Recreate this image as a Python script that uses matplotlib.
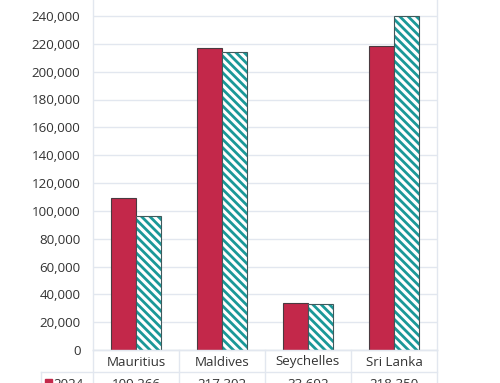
import numpy as np
import matplotlib
matplotlib.use("Agg")
from matplotlib import pyplot as plt
from matplotlib.lines import Line2D
from matplotlib.patches import Rectangle

countries = ["Mauritius", "Maldives", "Seychelles", "Sri Lanka"]
arrivals_2024 = [109266, 217302, 33692, 218350]
arrivals_prev = [96000, 214000, 33000, 240000]
row_label = "2024"
yticks = np.arange(0, 240001, 20000)

RED = "#C3284A"
TEAL = "#1A9898"
GRID = "#E2E7EF"
TXT = "#333333"

W, H = 500, 383


def px(x, y):
    # pixel position -> figure fraction
    return x / W, 1 - y / H


def main():
    plt.rcParams['font.family'] = ['Open Sans', 'DejaVu Sans']
    plt.rcParams['hatch.linewidth'] = 2.0

    fig = plt.figure(figsize=(W / 100, H / 100), dpi=100)
    left, top = px(93, 0)
    right, bottom = px(437, 350)
    ax = fig.add_axes([left, bottom, right - left, top - bottom])

    x = np.arange(len(countries))
    bw = 0.295
    ax.bar(x - bw / 2, arrivals_2024, bw, color=RED, edgecolor="#4a3a40",
           linewidth=0.8, zorder=3)
    ax.bar(x + bw / 2, arrivals_prev, bw, color="white", edgecolor=TEAL,
           hatch="\\\\\\\\", linewidth=0, zorder=3)
    ax.bar(x + bw / 2, arrivals_prev, bw, fill=False, edgecolor="#3f5a5c",
           linewidth=0.8, zorder=4)

    ax.set_xlim(-0.5, len(countries) - 0.5)
    ax.set_ylim(0, 240000 * 350 / 334)
    ax.set_yticks(yticks)
    ax.set_yticklabels([f"{v:,}" for v in yticks], color=TXT, fontsize=9.6)
    ax.tick_params(axis="y", length=0, pad=9)
    ax.set_xticks([])
    ax.yaxis.grid(True, color=GRID, linewidth=1.0, zorder=0)
    for s in ["top"]:
        ax.spines[s].set_visible(False)
    for s in ["left", "right", "bottom"]:
        ax.spines[s].set_color(GRID)
        ax.spines[s].set_linewidth(1.0)

    # data table under the chart
    cell_x = [93, 179, 265, 351, 437]
    lines = [
        ((93, 437), (350, 350)),
        ((41, 437), (372, 372)),
        ((41, 41), (372, 383)),
    ]
    for cx in cell_x:
        lines.append(((cx, cx), (350, 383)))
    for xs, ys in lines:
        p0 = px(xs[0], ys[0])
        p1 = px(xs[1], ys[1])
        fig.add_artist(Line2D([p0[0], p1[0]], [p0[1], p1[1]],
                              color=GRID, linewidth=1.0))

    for i, name in enumerate(countries):
        cx = (cell_x[i] + cell_x[i + 1]) / 2
        fig.text(*px(cx, 362), name, ha="center", va="center",
                 fontsize=9.6, color=TXT)
        fig.text(*px(cx, 378), f"{arrivals_2024[i]:,}", ha="center",
                 va="top", fontsize=9.6, color=TXT)

    sq = px(45, 379)
    fig.add_artist(Rectangle(sq, 7 / W, -7 / H, color=RED,
                             transform=fig.transFigure))
    fig.text(*px(53, 378), row_label, ha="left", va="top",
             fontsize=9.6, color=TXT)

    fig.savefig("out.png", dpi=100)


if __name__ == '__main__':
    main()
